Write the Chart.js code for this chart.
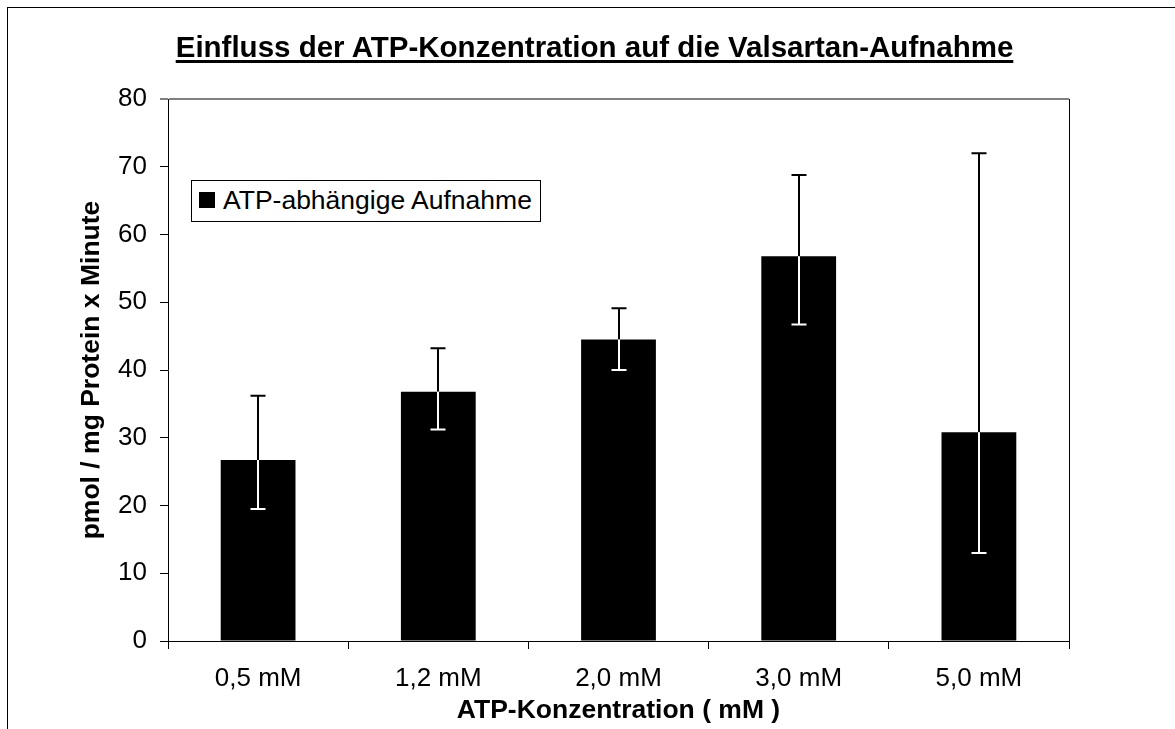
<!DOCTYPE html>
<html>
<head>
<meta charset="utf-8">
<script src="https://cdn.jsdelivr.net/npm/chart.js@4.4.1/dist/chart.umd.min.js"></script>
<style>
  body { margin: 0; overflow: hidden; background: #fff; }
  #wrap { position: relative; width: 1175px; height: 729px; overflow: hidden; font-family: 'Liberation Sans', Arial, sans-serif; }
  #frame { position: absolute; left: 7px; top: 7px; width: 2000px; height: 2000px; border-left: 1px solid #000; border-top: 1px solid #000; }
  #title { position: absolute; left: 0; top: 32px; width: 1189px; text-align: center; font-size: 29.5px; line-height: 29px; font-weight: bold; color: #000;
           text-decoration: underline; text-decoration-thickness: 3px; text-underline-offset: 3px; }
  canvas { position: absolute; left: 0; top: 0; }
  #legend { position: absolute; left: 191px; top: 180px; width: 348px; height: 40px; border: 1px solid #000; background: #fff; }
  #legend .box { position: absolute; left: 7px; top: 11px; width: 16px; height: 16px; background: #000; }
  #legend .txt { position: absolute; left: 31px; top: 6px; font-size: 26.5px; line-height: 26px; color: #000; white-space: nowrap; }
</style>
</head>
<body>
<div id="wrap">
  <div id="frame"></div>
  <canvas id="chart" width="1175" height="729"></canvas>
  <div id="title"></div>
  <div id="legend"><span class="box"></span><span class="txt"></span></div>
</div>
<script>
const chartTitle = 'Einfluss der ATP-Konzentration auf die Valsartan-Aufnahme'
const seriesLabel = 'ATP-abhängige Aufnahme'
const categories = ['0,5 mM', '1,2 mM', '2,0 mM', '3,0 mM', '5,0 mM']
const uptake = [26.7, 36.8, 44.5, 56.8, 30.8]
const errHigh = [36.2, 43.2, 49.1, 68.8, 72.0]
const errLow = [19.5, 31.2, 40.0, 46.7, 13.0]
const yTitle = 'pmol / mg Protein x Minute'
const xTitle = 'ATP-Konzentration ( mM )'

document.getElementById('title').textContent = chartTitle
document.querySelector('#legend .txt').textContent = seriesLabel

Chart.defaults.font.family = "'Liberation Sans', Arial, sans-serif"
Chart.defaults.color = '#000'

// error bars: black above the bar top, white inside the bar
const errorBars = {
    id: 'errorBars',
    afterDatasetsDraw(chart) {
        const ctx = chart.ctx
        const y = chart.scales.y
        chart.getDatasetMeta(0).data.forEach((bar, i) => {
            const x = Math.round(bar.x)
            const hi = y.getPixelForValue(errHigh[i])
            const lo = y.getPixelForValue(errLow[i])
            const w = 7.5
            ctx.save()
            ctx.lineWidth = 2
            ctx.strokeStyle = '#000'
            ctx.beginPath()
            ctx.moveTo(x, hi); ctx.lineTo(x, bar.y)
            ctx.moveTo(x - w, hi); ctx.lineTo(x + w, hi)
            ctx.stroke()
            ctx.strokeStyle = '#fff'
            ctx.beginPath()
            ctx.moveTo(x, bar.y); ctx.lineTo(x, lo)
            ctx.moveTo(x - w, lo); ctx.lineTo(x + w, lo)
            ctx.stroke()
            ctx.restore()
        })
    },
}

new Chart(document.getElementById('chart').getContext('2d'), {
    type: 'bar',
    data: {
        labels: categories,
        datasets: [
            {
                label: seriesLabel,
                data: uptake,
                backgroundColor: '#000',
                borderWidth: 0,
                barPercentage: 0.415,
                categoryPercentage: 1,
            },
        ],
    },
    options: {
        responsive: false,
        animation: false,
        devicePixelRatio: 1,
        layout: { padding: { top: 99, right: 106, left: 0, bottom: 0 } },
        plugins: {
            legend: { display: false },
            tooltip: { enabled: false },
        },
        scales: {
            x: {
                afterFit: (scale) => { scale.height = 88 },
                grid: {
                    offset: true,
                    drawOnChartArea: true,
                    color: (c) => (c.type === 'scale' ? '#000' : 'rgba(0,0,0,0)'),
                    tickColor: '#000',
                    tickLength: 8,
                    tickWidth: 1,
                },
                border: { color: '#000', width: 1 },
                ticks: { font: { size: 26 }, padding: 14, color: '#000' },
                title: {
                    display: true,
                    text: xTitle,
                    font: { size: 26.5, weight: 'bold' },
                    padding: { top: 0, bottom: 2 },
                    color: '#000',
                },
            },
            y: {
                min: 0,
                max: 80,
                afterFit: (scale) => { scale.width = 168 },
                grid: {
                    drawOnChartArea: true,
                    color: (c) => (c.tick && c.tick.value === 80 ? '#808080' : 'rgba(0,0,0,0)'),
                    lineWidth: (c) => (c.tick && c.tick.value === 80 ? 2 : 1),
                    tickColor: '#000',
                    tickLength: 8,
                    tickWidth: 1,
                },
                border: { color: '#000', width: 1 },
                ticks: { stepSize: 10, font: { size: 26 }, padding: 13, color: '#000' },
                title: {
                    display: true,
                    text: yTitle,
                    font: { size: 26.5, weight: 'bold' },
                    padding: { top: 76, bottom: 0 },
                    color: '#000',
                },
            },
        },
    },
    plugins: [errorBars],
})
</script>
</body>
</html>
